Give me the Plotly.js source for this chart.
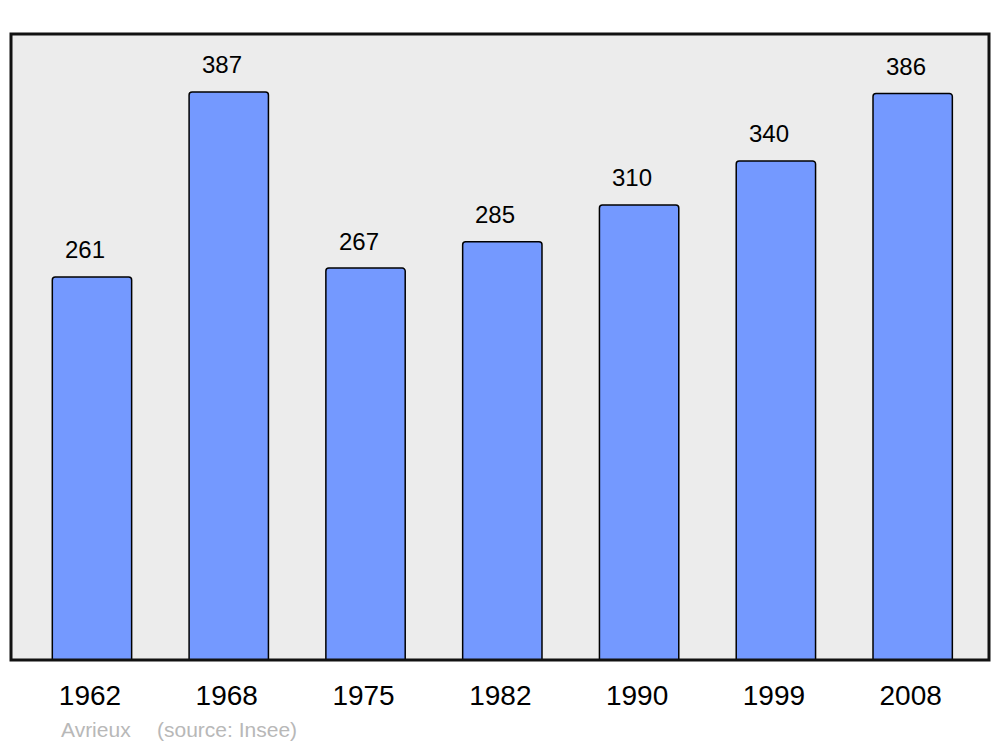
<!DOCTYPE html>
<html><head><meta charset="utf-8">
<script src="https://cdn.plot.ly/plotly-3.0.1.min.js"></script>
<style>html,body{margin:0;padding:0;background:#fff}#chart{width:1000px;height:747px}</style>
</head><body><div id="chart"></div>
<script>
const years = ["1962","1968","1975","1982","1990","1999","2008"];
const population = [261,387,267,285,310,340,386];
const commune = "Avrieux";
const source = "(source: Insee)";

const annotations = years.map((yr,i)=>({
  x: i, y: population[i], xref:'x', yref:'y',
  text: String(population[i]), showarrow:false,
  yanchor:'middle', yshift:27, xshift:-7,
  font:{family:'Liberation Sans, Arial, sans-serif', size:24, color:'#000'}
}));
annotations.push({xref:'paper', yref:'paper', x:0.0511, y:-0.1118, xanchor:'left', yanchor:'middle', xshift:-2,
  text: commune, showarrow:false, font:{family:'Liberation Sans, Arial, sans-serif', size:21, color:'#b8b8b8'}});
annotations.push({xref:'paper', yref:'paper', x:0.1493, y:-0.1118, xanchor:'left', yanchor:'middle', xshift:-2,
  text: source, showarrow:false, font:{family:'Liberation Sans, Arial, sans-serif', size:21, color:'#b8b8b8'}});

Plotly.newPlot('chart', [{
  type:'bar', x:years, y:population, width:0.58,
  marker:{color:'#7499ff', line:{color:'#000', width:1.5}, cornerradius:3},
  hoverinfo:'none'
}], {
  width:1000, height:747,
  margin:{l:11, r:11, t:34, b:87},
  paper_bgcolor:'#fff', plot_bgcolor:'#ececec',
  showlegend:false,
  xaxis:{type:'category', range:[-0.592, 6.558], showgrid:false, zeroline:false, showline:false,
    ticks:'outside', ticklen:10, tickcolor:'rgba(0,0,0,0)', ticklabelshift:-2,
    tickfont:{family:'Liberation Sans, Arial, sans-serif', size:28, color:'#000'}, fixedrange:true},
  yaxis:{range:[0, 426.5], showgrid:false, zeroline:false, showline:false, showticklabels:false, ticks:'', fixedrange:true},
  shapes:[{type:'rect', xref:'paper', yref:'paper', x0:0, x1:1, y0:0, y1:1, line:{color:'#111', width:3}}],
  annotations: annotations
}, {displayModeBar:false, staticPlot:true});
</script></body></html>
